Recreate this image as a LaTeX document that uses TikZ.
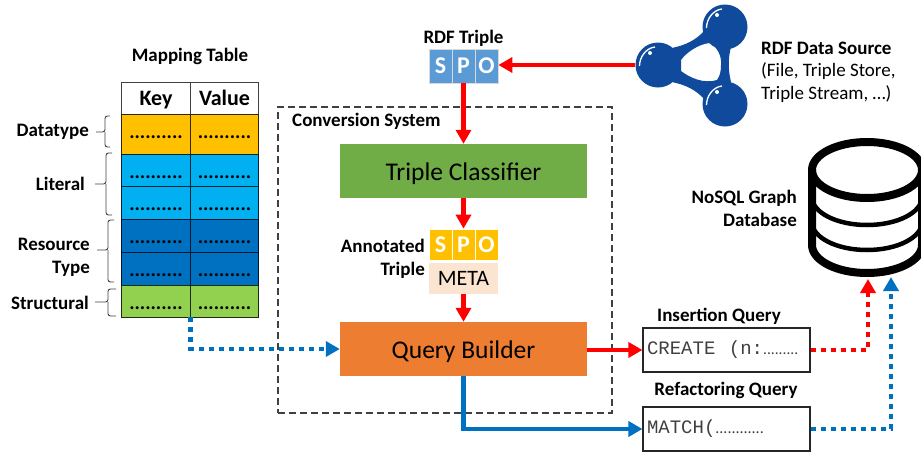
\documentclass[tikz,border=0pt]{standalone}
\usepackage{fontspec}
\setmainfont{Carlito}
\setmonofont{Liberation Mono}
\usetikzlibrary{arrows.meta}
\definecolor{cyel}{HTML}{FFC000}
\definecolor{clit}{HTML}{00B0F0}
\definecolor{cres}{HTML}{0070C0}
\definecolor{cstr}{HTML}{92D050}
\definecolor{cspo}{HTML}{5B9BD5}
\definecolor{cgrn}{HTML}{70AD47}
\definecolor{corg}{HTML}{ED7D31}
\definecolor{cmeta}{HTML}{FBE5D0}
\definecolor{clogo}{HTML}{0F4A9C}
\definecolor{cline}{HTML}{404040}
\newcommand{\fs}[1]{\fontsize{#1}{#1}\selectfont}
\tikzset{
  lab/.style={font=\bfseries\fs{19}, inner sep=0pt, align=center},
  cell/.style={draw=cline, line width=0.8pt, minimum width=68.5pt, minimum height=#1, inner sep=0pt, text=black, font=\bfseries\fs{20}},
  headcell/.style={text height=15pt, text depth=0pt, font=\bfseries\fs{22}, fill=white},
  spo/.style={draw=white!85!black, line width=0.8pt, minimum width=23pt, minimum height=34pt, inner sep=0pt, text=white, font=\bfseries\fs{24}},
  comp/.style={minimum width=247pt, minimum height=54pt, inner sep=0pt, text height=18pt, text depth=0pt, font=\fs{25.5}},
  qbox/.style={draw=black!85, line width=1.1pt, minimum width=167pt, minimum height=44pt, inner sep=4pt, text width=159pt, align=left, font=\ttfamily\fs{19}, text=black!75},
  brace/.style={draw=cline, line width=0.9pt, rounded corners=2.5pt},
  solidarrow/.style={line width=4.5pt, -{Triangle[width=15pt,length=14pt]}},
  dotarrow/.style={line width=4.5pt, dash pattern=on 5pt off 5pt, -{Triangle[width=15pt,length=14pt]}},
  ball/.style={circle, fill=clogo, minimum size=45pt, inner sep=0pt},
}
\begin{document}
\begin{tikzpicture}[x=1pt,y=-1pt]
\useasboundingbox (0,0) rectangle (921,453);
\clip (0,0) rectangle (921,453);

% conversion box
\node[draw=cline, line width=2pt, dash pattern=on 7pt off 4pt, minimum width=334pt, minimum height=306pt, inner sep=0pt] (conv) at (445,260) {};
\node[lab, anchor=west] (convl) at (292,121) {Conversion System};

% mapping table
\node[lab] (mt) at (190,56) {Mapping Table};
\node[cell=32pt, headcell] (k0) at (156,98) {Key};
\node[cell=32pt, headcell] (v0) at (224.5,98) {Value};
\foreach \n/\y/\h/\c/\t in {1/134/40/cyel/8,2/170/32/clit/16,3/202.5/33/clit/16,4/235.5/33/cres/16,5/268.5/33/cres/16,6/301/32/cstr/16}{
  \node[cell=\h pt, fill=\c, draw=black!80!\c, text height=\t pt, text depth=0pt] (k\n) at (156,\y) {..........};
  \node[cell=\h pt, fill=\c, draw=black!80!\c, text height=\t pt, text depth=0pt] (v\n) at (224.5,\y) {..........};
}
% side labels
\node[lab, anchor=east] (ld) at (89,132) {Datatype};
\node[lab, anchor=east] (ll) at (85,184) {Literal};
\node[lab, anchor=east, align=right] (lr) at (90,257) {Resource\\[4pt]Type};
\node[lab, anchor=east] (ls) at (89,303) {Structural};
% braces
\coordinate (bd) at (96,132);
\coordinate (bl) at (95,184);
\coordinate (br) at (97,250);
\coordinate (bs) at (95,302);
\draw[brace] (110,116) -- (105,116) -- (105,132) -- (bd);
\draw[brace] (105,132) -- (105,147) -- (110,147);
\draw[brace] (112,153) -- (106,153) -- (106,184) -- (bl);
\draw[brace] (106,184) -- (106,215) -- (112,215);
\draw[brace] (114,220) -- (108,220) -- (108,250) -- (br);
\draw[brace] (108,250) -- (108,282) -- (114,282);
\draw[brace] (116,289) -- (108,289) -- (108,302) -- (bs);
\draw[brace] (108,302) -- (108,316) -- (116,316);

% RDF triple
\node[lab] (rt) at (463.5,38) {RDF Triple};
\node[spo, fill=cspo] (s1) at (440.5,66) {S};
\node[spo, fill=cspo] (p1) at (463.5,66) {P};
\node[spo, fill=cspo] (o1) at (486.5,66) {O};

% classifier / builder
\node[comp, fill=cgrn] (tc) at (463.5,171) {Triple Classifier};
\node[comp, fill=corg] (qb) at (463.5,349) {Query Builder};

% annotated triple
\node[spo, fill=cyel, minimum height=31pt, draw=white] (s2) at (440.5,244.5) {S};
\node[spo, fill=cyel, minimum height=31pt, draw=white] (p2) at (463.5,244.5) {P};
\node[spo, fill=cyel, minimum height=31pt, draw=white] (o2) at (486.5,244.5) {O};
\node[fill=cmeta, minimum width=69pt, minimum height=31pt, inner sep=0pt, font=\fs{22}] (meta) at (463.5,278.5) {META};
\node[lab, anchor=east, align=right] (an) at (425,259) {Annotated\\[4pt]Triple};

% query boxes
\node[lab] (iq) at (719,316) {Insertion Query};
\node[lab] (rq) at (726,390) {Refactoring Query};
\node[qbox] (ins) at (726.5,350) {CREATE\hspace*{13.5pt}(n:{\rmfamily\fs{15.5}.........}};
\node[qbox] (ref) at (726.5,429) {MATCH({\rmfamily\fs{16}............}};

% logo
\fill[clogo, even odd rule]
  (672,48) .. controls (686,45) and (696,40) .. (704,31)
  -- (731,47) .. controls (728,58) and (728,70) .. (731,82)
  -- (704,99) .. controls (696,90) and (686,85) .. (672,82) -- cycle
  (681,60) .. controls (686,53) and (698,44) .. (710,43)
  .. controls (717,47) and (722,56) .. (721,65)
  .. controls (721,71) and (720,76) .. (717,80)
  .. controls (704,84) and (690,78) .. (681,71) -- cycle;
\node[ball] (b1) at (658,65) {};
\node[ball] (b2) at (725,27) {};
\node[ball] (b3) at (725,104) {};
\foreach \b in {b1,b2,b3}{
  \draw[white, line width=1.3pt] ([shift={(-18.5,1)}]\b.center) .. controls ([shift={(-18.5,-8)}]\b.center) and ([shift={(-12,-17)}]\b.center) .. ([shift={(-3,-18)}]\b.center);
  \fill[white] ([shift={(-8,-12)}]\b.center) circle (2pt);
}
\node[lab, anchor=west] (sr) at (761,48) {RDF Data Source};
\node[anchor=west, inner sep=0pt, font=\fs{19}] (sr2) at (761,71) {(File, Triple Store,};
\node[anchor=west, inner sep=0pt, font=\fs{19}] (sr3) at (761,94) {Triple Stream, …)};

% database
\node[lab, align=right, anchor=east] (dbl) at (797,208) {NoSQL Graph\\[4pt]Database};
\coordinate (dbr) at (868,279);
\coordinate (dbb) at (891,277);
\draw[line width=8pt, black] (812,170) -- (812,245) arc[start angle=180,end angle=0,x radius=55,y radius=28] -- (922,170);
\draw[line width=8pt, black] (867,170) ellipse[x radius=55, y radius=28];
\draw[line width=4.5pt, black] (812,197) arc[start angle=180,end angle=0,x radius=55,y radius=28];
\draw[line width=4.5pt, black] (812,222) arc[start angle=180,end angle=0,x radius=55,y radius=28];

% connectors
\draw[solidarrow, red] (b1.west) -- (o1.east |- b1.west);
\draw[solidarrow, red] (p1.south) -- (tc.north);
\draw[solidarrow, red] (tc.south) -- (p2.north);
\draw[solidarrow, red] (meta.south) -- (qb.north);
\draw[solidarrow, red] (qb.east |- ins.west) -- (ins.west);
\draw[solidarrow, cres] (qb.south) |- (ref.west);
\draw[dotarrow, cres] (k6.south east) |- (qb.west);
\draw[dotarrow, red] (ins.east) -| (dbr);
\draw[dotarrow, cres] (ref.east) -| (dbb);
\end{tikzpicture}
\end{document}
